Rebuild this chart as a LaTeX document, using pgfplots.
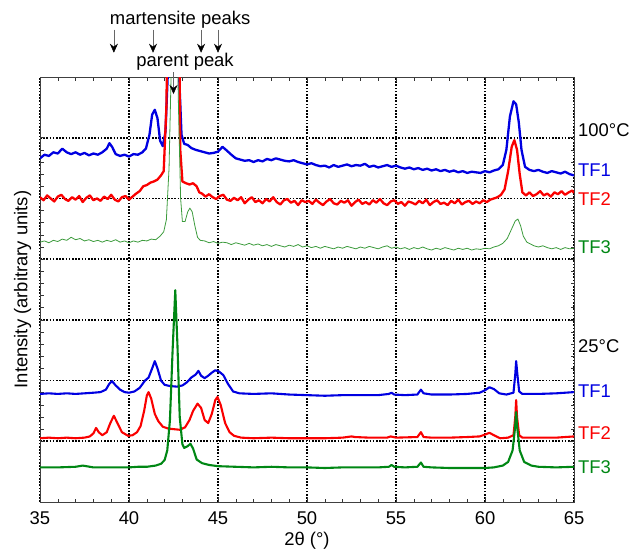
\documentclass[border=0pt]{standalone}
\usepackage{pgfplots}
\pgfplotsset{compat=1.18}
\usepackage{fontspec}
\setmainfont{Liberation Sans}
\usetikzlibrary{arrows.meta}
\definecolor{cblue}{RGB}{0,0,225}
\definecolor{cred}{RGB}{250,0,0}
\definecolor{cgreen}{RGB}{0,135,20}
\definecolor{cgreenl}{RGB}{60,155,60}
\tikzset{annarrow/.style={black!60, line width=0.5bp, -{Stealth[length=9bp,width=8bp,inset=3bp,black]}},
  rlab/.style={anchor=west, inner sep=0pt, xshift=4bp}}
\begin{document}
\fontsize{18.5}{22}\selectfont
\begin{tikzpicture}
\begin{axis}[
  scale only axis, width=534bp, height=425bp,
  xmin=35, xmax=65, ymin=0, ymax=7,
  xtick={35,40,...,65}, minor x tick num=4,
  ytick={1,...,6}, yticklabels={}, minor y tick num=4,
  grid=major,
  major grid style={black, line width=1.6bp, dash pattern=on 1.6bp off 1.6bp},
  axis line style={black!75},
  every tick/.style={black!80, line width=0.6bp},
  major tick length=5bp, minor tick length=3.5bp,
  tick align=inside,
  /pgf/number format/assume math mode=true,
  tick label style={font=\fontsize{18.5}{22}\selectfont},
  xticklabel style={yshift=-3bp},
  label style={font=\fontsize{18.5}{22}\selectfont},
  xlabel={2θ (°)},
  xlabel style={yshift=5bp},
  ylabel={Intensity (arbitrary units)},
  ylabel style={at={(axis description cs:-0.016,0.5)}, anchor=south, inner sep=0pt},
  clip mode=individual,
  every axis plot/.append style={line join=round},
]
\coordinate (LL) at (rel axis cs:0,0);
% 100 C TF1
\addplot[cblue, line width=2.3bp] coordinates {
(35.00,5.66)(35.25,5.72)(35.50,5.70)(35.75,5.76)(36.00,5.74)(36.25,5.82)(36.50,5.76)(36.75,5.73)
(37.00,5.76)(37.25,5.72)(37.50,5.75)(37.75,5.71)(38.00,5.74)(38.25,5.72)(38.50,5.76)(38.75,5.82)
(38.90,5.91)(39.05,5.85)(39.25,5.73)(39.50,5.70)(39.75,5.72)(40.00,5.69)(40.25,5.73)(40.50,5.72)
(40.75,5.76)(40.95,5.82)(41.15,6.05)(41.30,6.38)(41.45,6.46)(41.60,6.32)(41.75,5.95)(41.90,5.86)
(42.05,6.10)(42.20,7.20)(42.35,8.50)(42.70,8.50)(42.82,7.00)(42.95,6.05)(43.10,5.90)(43.30,5.88)
(43.50,5.83)(43.75,5.80)(44.00,5.78)(44.25,5.76)(44.50,5.74)(44.75,5.75)(45.00,5.77)(45.25,5.85)
(45.45,5.80)(45.75,5.72)(46.00,5.66)(46.25,5.64)(46.50,5.62)(46.75,5.63)(47.00,5.60)(47.25,5.63)
(47.50,5.61)(47.75,5.65)(48.00,5.63)(48.25,5.66)(48.50,5.64)(48.75,5.62)(49.00,5.61)(49.25,5.63)
(49.50,5.60)(49.75,5.58)(50.00,5.56)(50.25,5.58)(50.50,5.55)(50.75,5.53)(51.00,5.54)(51.25,5.51)
(51.50,5.55)(51.75,5.52)(52.00,5.54)(52.25,5.56)(52.50,5.53)(52.75,5.55)(53.00,5.54)(53.25,5.57)
(53.50,5.52)(53.75,5.54)(54.00,5.51)(54.25,5.53)(54.50,5.55)(54.75,5.52)(55.00,5.54)(55.25,5.51)
(55.50,5.49)(55.75,5.51)(56.00,5.48)(56.25,5.50)(56.50,5.47)(56.75,5.49)(57.00,5.46)(57.25,5.48)
(57.50,5.45)(57.75,5.47)(58.00,5.44)(58.25,5.46)(58.50,5.43)(58.75,5.45)(59.00,5.42)(59.25,5.44)
(59.50,5.43)(59.75,5.42)(60.00,5.45)(60.25,5.43)(60.50,5.46)(60.75,5.48)(61.00,5.55)(61.20,5.80)
(61.40,6.35)(61.60,6.60)(61.75,6.55)(61.90,6.25)(62.05,5.80)(62.25,5.52)(62.50,5.47)(62.75,5.45)
(63.00,5.47)(63.25,5.44)(63.50,5.42)(63.75,5.45)(64.00,5.43)(64.25,5.41)(64.50,5.44)(64.75,5.40)
(65.00,5.38)};
% 100 C TF2
\addplot[cred, line width=2.3bp] coordinates {
(35.00,5.02)(35.20,4.97)(35.40,5.05)(35.60,5.00)(35.80,4.95)(36.00,5.03)(36.20,5.06)(36.40,4.99)
(36.60,4.96)(36.80,5.02)(37.00,4.98)(37.20,5.04)(37.40,4.94)(37.60,5.01)(37.80,5.05)(38.00,4.97)
(38.20,5.00)(38.40,4.96)(38.60,5.03)(38.80,4.99)(39.00,5.06)(39.20,4.98)(39.40,4.95)(39.60,5.02)
(39.80,5.04)(40.00,4.98)(40.20,5.03)(40.40,5.08)(40.60,5.12)(40.80,5.20)(41.00,5.22)(41.20,5.26)
(41.40,5.28)(41.60,5.31)(41.80,5.38)(41.95,5.45)(42.10,6.50)(42.20,8.50)(42.80,8.50)(42.88,5.80)
(43.00,5.28)(43.20,5.25)(43.40,5.23)(43.60,5.25)(43.80,5.20)(43.95,5.10)(44.10,5.08)(44.30,5.03)
(44.50,5.07)(44.70,5.02)(44.90,4.99)(45.10,5.04)(45.30,5.06)(45.50,4.98)(45.70,4.96)(45.90,5.01)
(46.10,4.97)(46.30,5.02)(46.50,4.92)(46.70,4.98)(46.90,5.02)(47.10,4.94)(47.30,4.97)(47.50,4.92)
(47.70,4.99)(47.90,4.95)(48.10,5.02)(48.30,4.94)(48.50,4.90)(48.70,4.97)(48.90,4.99)(49.10,4.93)
(49.30,4.96)(49.50,4.89)(49.70,4.97)(49.90,4.94)(50.10,4.96)(50.30,4.91)(50.50,4.98)(50.70,4.93)
(50.90,4.89)(51.10,4.95)(51.30,4.99)(51.50,4.92)(51.70,4.90)(51.90,4.96)(52.10,4.93)(52.30,4.97)
(52.50,4.88)(52.70,4.94)(52.90,4.98)(53.10,4.91)(53.30,4.94)(53.50,4.90)(53.70,4.97)(53.90,4.93)
(54.10,4.99)(54.30,4.92)(54.50,4.89)(54.70,4.95)(54.90,4.97)(55.10,4.91)(55.30,4.94)(55.50,4.88)
(55.70,4.95)(55.90,4.93)(56.10,4.90)(56.30,4.96)(56.50,4.92)(56.70,4.98)(56.90,4.89)(57.10,4.94)
(57.30,4.97)(57.50,4.91)(57.70,4.93)(57.90,4.89)(58.10,4.96)(58.30,4.92)(58.50,4.98)(58.70,4.90)
(58.90,4.94)(59.10,4.96)(59.30,4.91)(59.50,4.95)(59.70,4.92)(59.90,4.97)(60.10,4.94)(60.30,4.98)
(60.50,5.00)(60.70,5.02)(60.90,5.06)(61.10,5.15)(61.30,5.45)(61.50,5.85)(61.65,5.96)(61.80,5.80)
(61.95,5.40)(62.10,5.10)(62.30,5.05)(62.50,5.10)(62.70,5.04)(62.90,5.07)(63.10,5.12)(63.30,5.05)
(63.50,5.08)(63.70,5.03)(63.90,5.10)(64.10,5.07)(64.30,5.12)(64.50,5.06)(64.70,5.10)(64.90,5.13)
(65.00,5.09)};
% 100 C TF3
\addplot[cgreenl, line width=0.8bp] coordinates {
(35.00,4.28)(35.25,4.30)(35.50,4.27)(35.75,4.31)(36.00,4.29)(36.25,4.33)(36.50,4.31)(36.75,4.36)
(37.00,4.32)(37.25,4.34)(37.50,4.30)(37.75,4.32)(38.00,4.29)(38.25,4.31)(38.50,4.28)(38.75,4.31)
(39.00,4.29)(39.25,4.32)(39.50,4.28)(39.75,4.30)(40.00,4.27)(40.25,4.30)(40.50,4.28)(40.75,4.31)
(41.00,4.30)(41.25,4.33)(41.50,4.32)(41.75,4.38)(41.95,4.45)(42.10,4.65)(42.25,5.50)(42.40,7.50)
(42.55,8.50)(42.65,8.50)(42.78,6.50)(42.90,5.00)(43.00,4.62)(43.15,4.62)(43.30,4.78)(43.42,4.84)
(43.55,4.78)(43.70,4.55)(43.85,4.36)(44.00,4.31)(44.25,4.30)(44.50,4.27)(44.75,4.29)(45.00,4.26)
(45.25,4.28)(45.50,4.27)(45.75,4.24)(46.00,4.27)(46.25,4.25)(46.50,4.23)(46.75,4.26)(47.00,4.23)
(47.25,4.25)(47.50,4.22)(47.75,4.24)(48.00,4.21)(48.25,4.24)(48.50,4.22)(48.75,4.20)(49.00,4.23)
(49.25,4.21)(49.50,4.24)(49.75,4.20)(50.00,4.22)(50.25,4.19)(50.50,4.21)(50.75,4.18)(51.00,4.21)
(51.25,4.19)(51.50,4.17)(51.75,4.20)(52.00,4.18)(52.25,4.21)(52.50,4.19)(52.75,4.17)(53.00,4.20)
(53.25,4.18)(53.50,4.21)(53.75,4.19)(54.00,4.17)(54.25,4.20)(54.50,4.22)(54.75,4.18)(55.00,4.20)
(55.25,4.17)(55.50,4.19)(55.75,4.16)(56.00,4.19)(56.25,4.17)(56.50,4.20)(56.75,4.17)(57.00,4.15)
(57.25,4.18)(57.50,4.16)(57.75,4.19)(58.00,4.17)(58.25,4.15)(58.50,4.18)(58.75,4.16)(59.00,4.18)
(59.25,4.15)(59.50,4.17)(59.75,4.16)(60.00,4.18)(60.25,4.17)(60.50,4.20)(60.75,4.22)(61.00,4.26)
(61.25,4.34)(61.50,4.50)(61.70,4.63)(61.85,4.66)(62.00,4.55)(62.15,4.38)(62.35,4.28)(62.55,4.25)
(62.75,4.22)(63.00,4.20)(63.25,4.22)(63.50,4.19)(63.75,4.17)(64.00,4.19)(64.25,4.16)(64.50,4.19)
(64.75,4.17)(65.00,4.18)};
% 25 C TF1
\addplot[cblue, line width=2.1bp] coordinates {
(35.00,1.78)(35.50,1.79)(36.00,1.78)(36.50,1.79)(37.00,1.78)(37.50,1.79)(38.00,1.80)(38.40,1.81)
(38.70,1.85)(38.90,1.95)(39.05,1.99)(39.25,1.92)(39.50,1.85)(39.75,1.81)(40.00,1.80)(40.30,1.82)
(40.60,1.88)(40.90,2.00)(41.10,2.05)(41.30,2.20)(41.45,2.32)(41.60,2.20)(41.80,2.00)(42.00,1.93)
(42.30,1.91)(42.70,1.90)(43.00,1.92)(43.25,1.97)(43.50,2.05)(43.75,2.10)(43.90,2.16)(44.05,2.08)
(44.25,2.04)(44.45,2.08)(44.65,2.13)(44.85,2.17)(45.05,2.15)(45.30,2.09)(45.55,1.95)(45.85,1.82)
(46.20,1.79)(47.00,1.78)(48.00,1.79)(49.00,1.77)(50.00,1.76)(51.00,1.75)(52.00,1.76)(53.00,1.76)
(54.00,1.76)(54.60,1.78)(54.75,1.80)(54.90,1.77)(55.50,1.76)(56.20,1.77)(56.40,1.85)(56.55,1.79)
(57.00,1.77)(58.00,1.77)(59.00,1.78)(59.70,1.80)(60.00,1.84)(60.25,1.89)(60.50,1.86)(60.80,1.79)
(61.20,1.77)(61.60,1.80)(61.70,2.10)(61.75,2.32)(61.82,2.10)(61.92,1.82)(62.10,1.78)(63.00,1.78)
(64.00,1.79)(64.50,1.80)(65.00,1.81)};
% 25 C TF2
\addplot[cred, line width=2.1bp] coordinates {
(35.00,1.05)(35.50,1.06)(36.00,1.05)(36.50,1.06)(37.00,1.05)(37.50,1.06)(37.80,1.08)(38.00,1.13)
(38.15,1.22)(38.30,1.15)(38.50,1.10)(38.75,1.15)(38.95,1.30)(39.15,1.42)(39.35,1.30)(39.60,1.15)
(39.95,1.09)(40.20,1.10)(40.45,1.15)(40.65,1.25)(40.85,1.50)(41.00,1.75)(41.10,1.81)(41.25,1.70)
(41.45,1.45)(41.65,1.33)(41.90,1.24)(42.20,1.21)(42.50,1.20)(42.85,1.19)(43.15,1.23)(43.40,1.35)
(43.60,1.50)(43.85,1.62)(44.05,1.55)(44.25,1.35)(44.45,1.30)(44.65,1.45)(44.85,1.68)(44.97,1.73)
(45.15,1.60)(45.40,1.30)(45.65,1.15)(45.90,1.09)(46.30,1.06)(47.00,1.05)(48.00,1.06)(49.00,1.05)
(50.00,1.05)(51.00,1.05)(52.00,1.06)(52.50,1.08)(52.70,1.07)(53.50,1.06)(54.50,1.06)(54.70,1.08)
(55.00,1.06)(56.20,1.07)(56.40,1.15)(56.55,1.07)(57.00,1.06)(58.00,1.06)(59.00,1.07)(59.70,1.08)
(60.00,1.11)(60.25,1.14)(60.50,1.10)(60.85,1.05)(61.30,1.06)(61.60,1.10)(61.70,1.40)(61.75,1.68)
(61.80,1.40)(61.92,1.10)(62.10,1.06)(63.00,1.06)(64.00,1.06)(64.50,1.07)(65.00,1.08)};
% 25 C TF3
\addplot[cgreen, line width=2.1bp] coordinates {
(35.00,0.57)(36.00,0.57)(37.00,0.58)(37.40,0.60)(37.60,0.59)(38.00,0.57)(39.00,0.57)(40.00,0.57)
(40.50,0.58)(41.00,0.58)(41.50,0.60)(41.80,0.63)(42.00,0.69)(42.15,0.85)(42.30,1.35)(42.45,2.50)
(42.60,3.49)(42.72,2.60)(42.85,1.40)(43.00,0.95)(43.10,0.89)(43.30,0.92)(43.45,0.96)(43.60,0.88)
(43.80,0.70)(44.10,0.64)(44.50,0.61)(45.00,0.59)(46.00,0.58)(47.00,0.57)(48.00,0.58)(49.00,0.57)
(50.00,0.57)(51.00,0.56)(52.00,0.57)(53.00,0.57)(54.00,0.57)(54.60,0.58)(54.75,0.61)(54.90,0.58)
(55.50,0.57)(56.20,0.58)(56.40,0.65)(56.55,0.58)(57.00,0.57)(58.00,0.56)(59.00,0.56)(60.00,0.56)
(60.50,0.57)(61.00,0.60)(61.30,0.66)(61.55,0.85)(61.68,1.20)(61.75,1.48)(61.82,1.20)(61.95,0.85)
(62.20,0.66)(62.60,0.60)(63.00,0.58)(64.00,0.57)(65.00,0.58)};
% right-hand labels
\node[rlab] at (axis cs:65,6.13) {100°C};
\node[rlab, text=cblue] at (axis cs:65,5.47) {TF1};
\node[rlab, text=cred] at (axis cs:65,4.99) {TF2};
\node[rlab, text=cgreen] at (axis cs:65,4.20) {TF3};
\node[rlab] at (axis cs:65,2.56) {25°C};
\node[rlab, text=cblue] at (axis cs:65,1.83) {TF1};
\node[rlab, text=cred] at (axis cs:65,1.13) {TF2};
\node[rlab, text=cgreen] at (axis cs:65,0.58) {TF3};
% annotations
\node at (axis cs:42.87,7.94) {martensite peaks};
\node at (axis cs:43.15,7.25) {parent peak};
\draw[annarrow] (axis cs:39.15,7.78) -- (axis cs:39.15,7.40);
\draw[annarrow] (axis cs:41.35,7.78) -- (axis cs:41.35,7.40);
\draw[annarrow] (axis cs:44.05,7.78) -- (axis cs:44.05,7.40);
\draw[annarrow] (axis cs:45.00,7.78) -- (axis cs:45.00,7.40);
\draw[annarrow] (axis cs:42.5,7.08) -- (axis cs:42.5,6.72);
\end{axis}
\path (LL) ++(-40bp,-49bp) rectangle ++(641bp,551bp);
\end{tikzpicture}
\end{document}
